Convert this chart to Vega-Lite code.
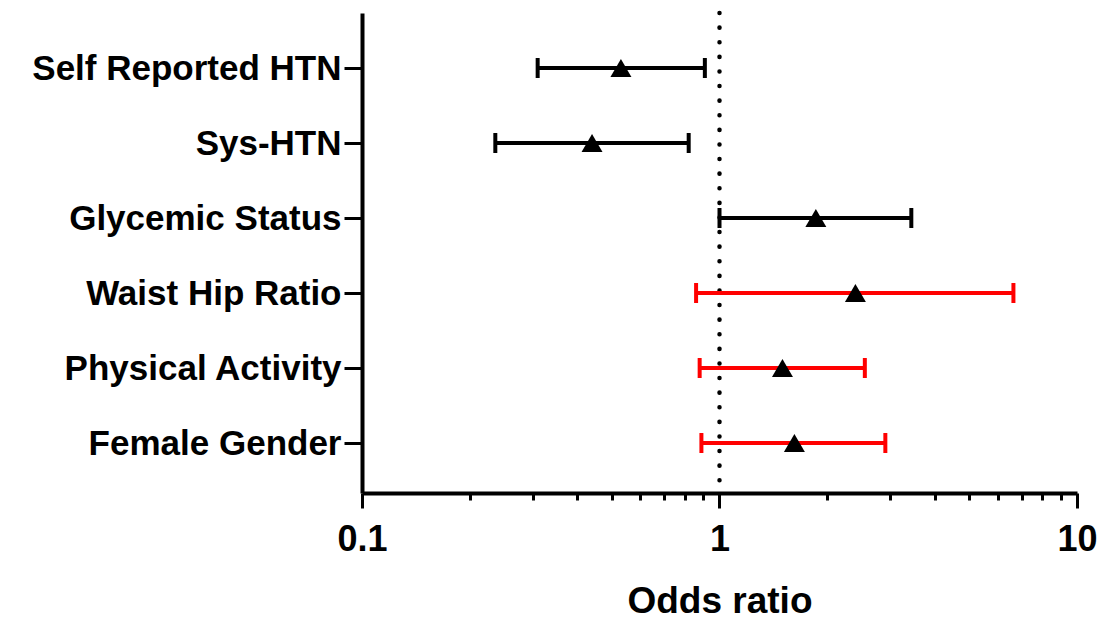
{
  "$schema": "https://vega.github.io/schema/vega-lite/v6.json",
  "autosize": {"type": "none"},
  "padding": {"left": 362, "top": 13, "right": 27, "bottom": 126},
  "width": 715,
  "height": 480,
  "background": "white",
  "config": {
    "view": {"stroke": null},
    "font": "Liberation Sans"
  },
  "data": {
    "values": [
      {"factor": "Self Reported HTN", "lo": 0.31, "or": 0.53, "hi": 0.91, "highlight": "no"},
      {"factor": "Sys-HTN", "lo": 0.236, "or": 0.44, "hi": 0.82, "highlight": "no"},
      {"factor": "Glycemic Status", "lo": 1.0, "or": 1.86, "hi": 3.44, "highlight": "no"},
      {"factor": "Waist Hip Ratio", "lo": 0.86, "or": 2.4, "hi": 6.64, "highlight": "yes"},
      {"factor": "Physical Activity", "lo": 0.88, "or": 1.5, "hi": 2.55, "highlight": "yes"},
      {"factor": "Female Gender", "lo": 0.89, "or": 1.62, "hi": 2.91, "highlight": "yes"}
    ]
  },
  "encoding": {
    "y": {
      "field": "factor",
      "type": "nominal",
      "sort": null,
      "scale": {"type": "point", "padding": 0.7, "align": 0.524},
      "axis": {
        "title": null,
        "domainColor": "black",
        "domainWidth": 4,
        "tickColor": "black",
        "tickWidth": 3,
        "tickSize": 18,
        "labelFont": "Liberation Sans",
        "labelFontWeight": "bold",
        "labelFontSize": 35,
        "labelColor": "black",
        "labelPadding": 3,
        "labelLimit": 400
      }
    }
  },
  "layer": [
    {
      "data": {"values": [{"ref": 1}]},
      "mark": {"type": "rule", "color": "black", "strokeWidth": 4.5, "strokeDash": [0.1, 14.5], "strokeCap": "round"},
      "encoding": {
        "x": {"field": "ref", "type": "quantitative", "scale": {"type": "log", "domain": [0.1, 10], "nice": false}},
        "y": null
      }
    },
    {
      "mark": {"type": "rule", "strokeWidth": 4, "opacity": 1},
      "encoding": {
        "x": {
          "field": "lo",
          "type": "quantitative",
          "scale": {"type": "log", "domain": [0.1, 10], "nice": false},
          "axis": {
            "title": "Odds ratio",
            "values": [0.1, 0.2, 0.3, 0.4, 0.5, 0.6, 0.7, 0.8, 0.9, 1, 2, 3, 4, 5, 6, 7, 8, 9, 10],
            "labelExpr": "datum.value === 0.1 ? '0.1' : datum.value === 1 ? '1' : datum.value === 10 ? '10' : ''",
            "labelOverlap": false,
            "labelFlush": false,
            "labelBound": false,
            "domainColor": "black",
            "domainWidth": 4,
            "tickColor": "black",
            "tickWidth": 3,
            "tickSize": {"condition": {"test": "datum.value === 0.1 || datum.value === 1 || datum.value === 10", "value": 15}, "value": 7},
            "labelFont": "Liberation Sans",
            "labelFontWeight": "bold",
            "labelFontSize": 36,
            "labelColor": "black",
            "labelPadding": 14,
            "titleFont": "Liberation Sans",
            "titleFontWeight": "bold",
            "titleFontSize": 37,
            "titleColor": "black",
            "titlePadding": 26,
            "grid": false
          }
        },
        "x2": {"field": "hi"},
        "color": {"field": "highlight", "type": "nominal", "scale": {"domain": ["no", "yes"], "range": ["#000000", "#ff0000"]}, "legend": null}
      }
    },
    {
      "mark": {"type": "tick", "size": 20, "thickness": 4, "opacity": 1},
      "encoding": {
        "x": {"field": "lo", "type": "quantitative"},
        "color": {"field": "highlight", "type": "nominal", "legend": null}
      }
    },
    {
      "mark": {"type": "tick", "size": 20, "thickness": 4, "opacity": 1},
      "encoding": {
        "x": {"field": "hi", "type": "quantitative"},
        "color": {"field": "highlight", "type": "nominal", "legend": null}
      }
    },
    {
      "mark": {"type": "point", "shape": "triangle-up", "filled": true, "opacity": 1, "color": "black", "size": 440},
      "encoding": {
        "x": {"field": "or", "type": "quantitative"}
      }
    }
  ]
}
